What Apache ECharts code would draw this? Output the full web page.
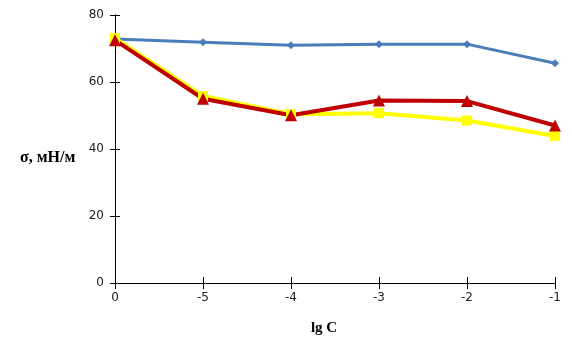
<!DOCTYPE html>
<html><head><meta charset="utf-8">
<script src="https://cdn.jsdelivr.net/npm/echarts@6/dist/echarts.min.js"></script>
<style>html,body{margin:0;padding:0;background:#fff}#c{width:572px;height:357px}</style>
</head><body><div id="c"></div>
<script>
const categories = ['0', '-5', '-4', '-3', '-2', '-1'];
const blueValues = [72.8, 71.9, 71.0, 71.3, 71.3, 65.6];
const yellowValues = [73.1, 55.8, 50.4, 50.7, 48.5, 43.9];
const redValues = [72.5, 55.0, 50.1, 54.5, 54.3, 47.0];
const yTicks = [0, 20, 40, 60, 80];
const xName = 'lg C';
const yName = 'σ, мН/м';

const chart = echarts.init(document.getElementById('c'), null, {renderer: 'canvas'});
const labelStyle = {color: '#222', fontFamily: 'DejaVu Sans', fontSize: 12};
chart.setOption({
  animation: false,
  backgroundColor: '#fff',
  grid: {left: 115, right: 17, top: 15, bottom: 74, containLabel: false},
  xAxis: [{
    type: 'category', data: categories, boundaryGap: false,
    name: xName, nameLocation: 'middle', nameGap: 38,
    nameTextStyle: {fontFamily: 'Liberation Serif', fontWeight: 'bold', fontSize: 15, color: '#000', padding: [0, 22, 0, 0]},
    axisLine: {lineStyle: {color: '#000', width: 1}},
    axisTick: {inside: false, length: 6, lineStyle: {color: '#000'}},
    axisLabel: Object.assign({margin: 9}, labelStyle),
    splitLine: {show: false}
  }, {
    type: 'category', data: categories, boundaryGap: false, position: 'bottom', offset: 0,
    axisLine: {show: true, lineStyle: {color: '#000', width: 1}},
    axisTick: {show: true, inside: true, length: 6, lineStyle: {color: '#000'}},
    axisLabel: {show: false}, splitLine: {show: false}
  }],
  yAxis: [{
    type: 'value', min: yTicks[0], max: yTicks[yTicks.length - 1], interval: 20,
    axisLine: {show: true, lineStyle: {color: '#000', width: 1}},
    axisTick: {show: true, length: 5, lineStyle: {color: '#000'}},
    axisLabel: Object.assign({margin: 11}, labelStyle),
    splitLine: {show: false}
  }, {
    type: 'value', min: yTicks[0], max: yTicks[yTicks.length - 1], interval: 20, position: 'left', offset: 0,
    axisLine: {show: true, lineStyle: {color: '#000', width: 1}},
    axisTick: {show: true, inside: true, length: 5, lineStyle: {color: '#000'}},
    axisLabel: {show: false}, splitLine: {show: false}
  }],
  graphic: [{
    type: 'text', left: 20, top: 150,
    style: {text: yName, font: 'bold 16px "Liberation Serif"', fill: '#000'}
  }],
  series: [
    {type: 'line', data: blueValues, symbol: 'diamond', symbolSize: 8,
     lineStyle: {color: '#4a7ebb', width: 3}, itemStyle: {color: '#4a7ebb'}},
    {type: 'line', data: yellowValues, symbol: 'rect', symbolSize: 10,
     lineStyle: {color: '#ffff00', width: 4}, itemStyle: {color: '#ffff00'}},
    {type: 'line', data: redValues, symbol: 'triangle', symbolSize: 12,
     lineStyle: {color: '#c00000', width: 4}, itemStyle: {color: '#c00000'}}
  ]
});
</script></body></html>
